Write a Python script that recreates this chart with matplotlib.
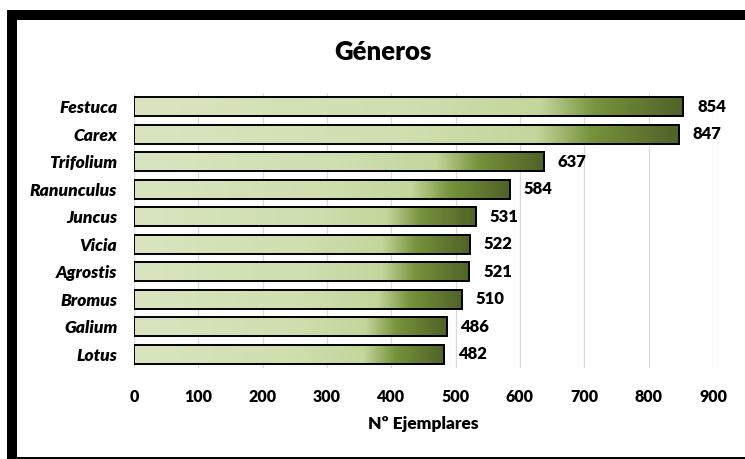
import numpy as np
import matplotlib
matplotlib.use("Agg")
import matplotlib.pyplot as plt
from matplotlib.colors import LinearSegmentedColormap
from matplotlib.patches import Rectangle

# Data
generos = ["Festuca", "Carex", "Trifolium", "Ranunculus", "Juncus",
           "Vicia", "Agrostis", "Bromus", "Galium", "Lotus"]
ejemplares = [854, 847, 637, 584, 531, 522, 521, 510, 486, 482]
x_ticks = [0, 100, 200, 300, 400, 500, 600, 700, 800, 900]

FONT = "Lato"
WEIGHT = "heavy"
W, H = 745, 459
fig = plt.figure(figsize=(W / 100, H / 100), dpi=100)
fig.patch.set_facecolor("white")

ax = fig.add_axes([134 / W, 91 / H, (713 - 134) / W, (366 - 91) / H])
n = len(generos)

# Horizontal gradient along each bar: pale green -> olive -> dark olive
cmap = LinearSegmentedColormap.from_list(
    "verde",
    [(0.0, "#d9e5c0"), (0.50, "#cfdfb0"), (0.74, "#c3d69b"),
     (0.84, "#77933c"), (1.0, "#4f6228")])
grad = np.linspace(0, 1, 256).reshape(1, -1)

bar_h = 0.70
ypos = np.arange(n)
for y, v in zip(ypos, ejemplares):
    ax.imshow(grad, cmap=cmap, aspect="auto", interpolation="bilinear",
              extent=(0, v, y + bar_h / 2, y - bar_h / 2), zorder=2)
ax.barh(ypos, ejemplares, height=bar_h, facecolor="none",
        edgecolor="black", linewidth=1.4, zorder=3)
for y, v in zip(ypos, ejemplares):
    ax.annotate(f"{v}", xy=(v, y), xytext=(10, 0), textcoords="offset points",
                va="center", ha="left", fontsize=12, fontweight=WEIGHT,
                family=FONT, color="black")

ax.set_xlim(0, 900)
ax.set_ylim(n - 0.5, -0.5)
ax.set_xticks(x_ticks)
ax.set_xticklabels([str(t) for t in x_ticks], fontsize=11.5,
                   fontweight=WEIGHT, family=FONT)
ax.set_yticks(ypos)
ax.set_yticklabels(generos, fontsize=12.5, fontweight=WEIGHT,
                   fontstyle="italic", family=FONT)
ax.tick_params(axis="both", length=0, colors="black")
ax.tick_params(axis="x", pad=15)
ax.tick_params(axis="y", pad=12)
for s in ax.spines.values():
    s.set_visible(False)
ax.set_axisbelow(True)
ax.grid(axis="x", color="#d9d9d9", linewidth=0.9)
ax.set_xlabel("Nº Ejemplares", fontsize=12.5, fontweight=WEIGHT,
              family=FONT, labelpad=8)

fig.text(383 / W, 1 - 52 / H, "Géneros", ha="center", va="center",
         fontsize=18.5, fontweight=WEIGHT, family=FONT)

# Frame: thick top and left bands, thin bottom line
def px_rect(x0, y0, x1, y1):
    fig.patches.append(Rectangle((x0 / W, 1 - y1 / H), (x1 - x0) / W,
                                 (y1 - y0) / H, transform=fig.transFigure,
                                 facecolor="black", edgecolor="none",
                                 zorder=10))

px_rect(7, 10, W, 20)
px_rect(7, 10, 17, H)
px_rect(7, 456.5, W, H)

fig.savefig("out.png", dpi=100)
